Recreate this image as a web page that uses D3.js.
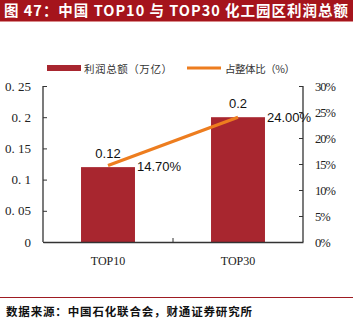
<!DOCTYPE html>
<html><head><meta charset="utf-8">
<script src="https://cdn.jsdelivr.net/npm/d3@7"></script>
<style>
body{margin:0;background:#fff;}
svg{display:block;}
</style></head>
<body><svg id="c" width="353" height="332"></svg>
<script>
const titleText = "图 47：中国 TOP10 与 TOP30 化工园区利润总额";
const sourceText = "数据来源：中国石化联合会，财通证券研究所";
const categories = ["TOP10", "TOP30"];
const profit = [0.12, 0.2];
const share = [14.7, 24.0];
const leftTicks = [0, 0.05, 0.1, 0.15, 0.2, 0.25];
const leftTickLabels = ["0", "0. 05", "0. 1", "0. 15", "0. 2", "0. 25"];
const rightTicks = [0, 5, 10, 15, 20, 25, 30];
const seriesNames = ["利润总额（万亿）", "占整体比（%）"];

const svg = d3.select("#c");
const W = 353, H = 332;
const barColor = "#A8262F", lineColor = "#ED7D1F", titleBg = "#A5141C";
const m = {left: 43, right: 303, top: 86, bottom: 242};

// title bar
svg.append("rect").attr("x",0).attr("y",0).attr("width",W).attr("height",21).attr("fill",titleBg);
svg.append("rect").attr("x",0).attr("y",21).attr("width",W).attr("height",1).attr("fill","#d98a8a");
svg.append("text").attr("x",4).attr("y",16).attr("fill","#fff")
  .attr("font-family","'Noto Sans CJK SC', sans-serif").attr("font-weight","bold").attr("font-size",14.5)
  .attr("textLength",344).attr("lengthAdjust","spacing")
  .text(titleText);

const x = d3.scaleBand().domain(categories).range([m.left, m.right]).paddingInner(0.585).paddingOuter(0.2925);
const yL = d3.scaleLinear().domain([0, 0.25]).range([m.bottom, m.top]);
const yR = d3.scaleLinear().domain([0, 30]).range([m.bottom, m.top]);

// bars
svg.selectAll(".bar").data(categories).enter().append("rect")
  .attr("x", d => x(d)).attr("width", x.bandwidth())
  .attr("y", (d,i) => yL(profit[i])).attr("height", (d,i) => yL(0) - yL(profit[i]))
  .attr("fill", barColor);

// axes
const axisColor = "#333";
const gL = svg.append("g").attr("transform", `translate(${m.left},0)`)
  .call(d3.axisLeft(yL).tickValues(leftTicks).tickSize(-4).tickPadding(12).tickFormat((d,i)=>leftTickLabels[i]));
const gR = svg.append("g").attr("transform", `translate(${m.right},0)`)
  .call(d3.axisRight(yR).tickValues(rightTicks).tickSize(-4).tickPadding(12).tickFormat(d => d + "%"));
const xMid = [m.left, (m.left+m.right)/2, m.right];
const gX = svg.append("g").attr("transform", `translate(0,${m.bottom})`)
  .call(d3.axisBottom(x).tickSize(0).tickPadding(14));
gX.selectAll("text").attr("font-family","'Liberation Serif', serif").attr("font-size",12).attr("fill","#222");
svg.append("line").attr("x1",xMid[1]).attr("x2",xMid[1]).attr("y1",m.bottom).attr("y2",m.bottom-4).attr("stroke",axisColor);
[gL,gR,gX].forEach(g=>{g.select(".domain").attr("stroke",axisColor).attr("stroke-width",1.3); g.selectAll(".tick line").attr("stroke",axisColor);});
gL.selectAll("text").attr("font-family","'Liberation Serif', serif").attr("font-size",13).attr("fill","#222");
gR.selectAll("text").attr("font-family","'Liberation Serif', serif").attr("font-size",12.5).attr("fill","#222").attr("letter-spacing",-1);
gL.select(".domain").attr("d", `M-0,${m.top}H0V${m.bottom}H0`);
gR.select(".domain").attr("d", `M0,${m.top}H0V${m.bottom}H0`);

// line
const cx = d => x(d) + x.bandwidth()/2;
svg.append("path").datum(categories)
  .attr("d", d3.line().x(d=>cx(d)).y((d,i)=>yR(share[i])))
  .attr("fill","none").attr("stroke",lineColor).attr("stroke-width",3.2);

// data labels
svg.selectAll(".bl").data(categories).enter().append("text")
  .attr("x", d=>cx(d)).attr("y",(d,i)=>yL(profit[i]) - 9).attr("text-anchor","middle")
  .attr("font-family","'Liberation Sans', Arial, sans-serif").attr("font-size",13).attr("fill","#111")
  .text((d,i)=>String(profit[i]));
svg.selectAll(".ll").data(categories).enter().append("text")
  .attr("x", d=>cx(d) + 29).attr("y",(d,i)=>yR(share[i]) + 5).attr("text-anchor","start")
  .attr("font-family","'Liberation Sans', Arial, sans-serif").attr("font-size",13).attr("fill","#111")
  .text((d,i)=>share[i].toFixed(2) + "%");

// legend
svg.append("rect").attr("x",47).attr("y",65).attr("width",34).attr("height",6).attr("fill",barColor);
svg.append("text").attr("x",84).attr("y",72.5).attr("font-family","'Noto Sans CJK SC', sans-serif").attr("font-size",10.5).attr("fill","#333")
  .attr("textLength",88).attr("lengthAdjust","spacing").text(seriesNames[0]);
svg.append("line").attr("x1",187).attr("x2",221).attr("y1",68).attr("y2",68).attr("stroke",lineColor).attr("stroke-width",3.2);
svg.append("text").attr("x",225).attr("y",72.5).attr("font-family","'Noto Sans CJK SC', sans-serif").attr("font-size",10.5).attr("fill","#333")
  .attr("textLength",70).attr("lengthAdjust","spacing").text(seriesNames[1]);

// footer
svg.append("line").attr("x1",0).attr("x2",W).attr("y1",297.5).attr("y2",297.5).attr("stroke","#9E1B22").attr("stroke-width",1.2);
svg.append("text").attr("x",6).attr("y",316).attr("font-family","'Noto Sans CJK SC', sans-serif").attr("font-weight","bold").attr("font-size",11.5).attr("fill","#111")
  .attr("textLength",246).attr("lengthAdjust","spacing").text(sourceText);
</script></body></html>
